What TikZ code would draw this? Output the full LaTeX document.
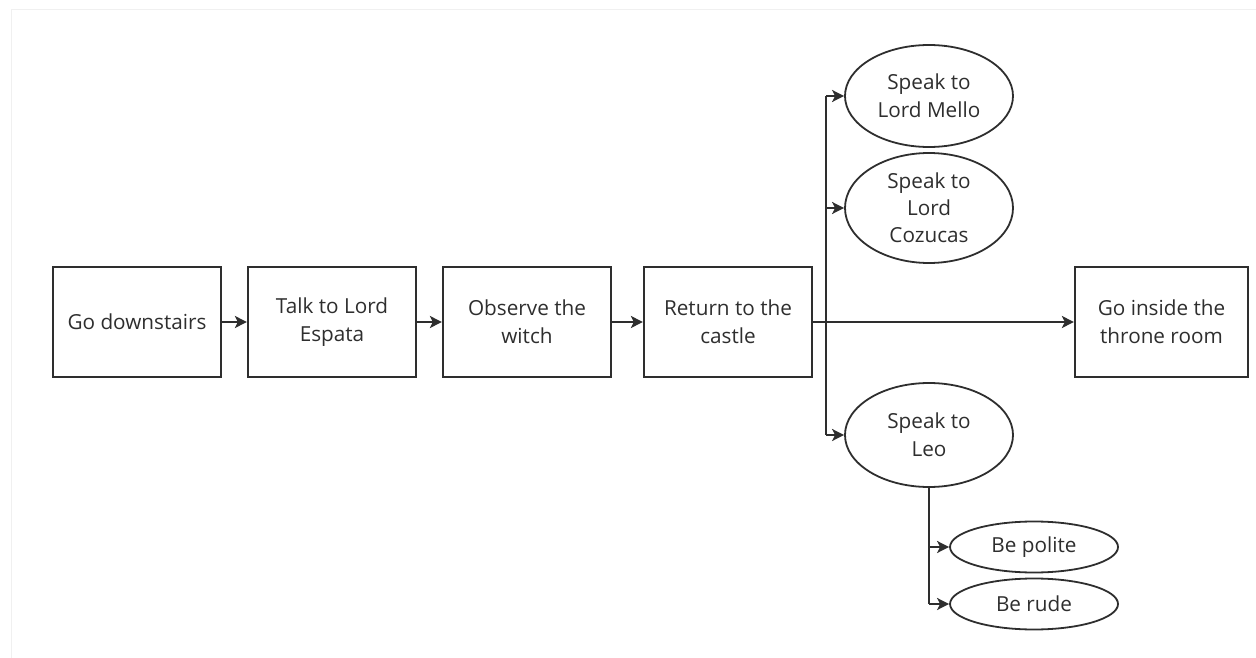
\documentclass[tikz,border=0pt]{standalone}
\usepackage{fontspec}
\setmainfont{Open Sans}
\usetikzlibrary{shapes.geometric,arrows.meta}
\definecolor{ink}{HTML}{2E2E2E}
\definecolor{frame}{HTML}{F0F0F0}
\begin{document}
\begin{tikzpicture}[x=1bp,y=-1bp,
  every node/.style={font=\fontsize{20.8}{28.5}\selectfont, text=ink, align=center},
  stepbox/.style={draw=ink, line width=2.2bp, rectangle, minimum width=168bp, minimum height=110bp, inner sep=0pt},
  bigoval/.style={draw=ink, line width=1.8bp, ellipse, minimum width=168bp, inner sep=-20bp},
  smalloval/.style={draw=ink, line width=1.8bp, ellipse, minimum width=168bp, minimum height=51bp, inner sep=-20bp},
  link/.style={draw=ink, line width=2.9bp, -{Stealth[length=12bp,width=12bp,inset=3bp]}},
  trunk/.style={draw=ink, line width=2.9bp}
]
\useasboundingbox (0,0) rectangle (1256,658);
% faint page frame
\draw[frame, line width=1bp] (11,658) -- (11,10) -- (1256,10);

% main sequence
\node[stepbox] (down)   at (137,322)  {Go downstairs};
\node[stepbox] (espata) at (332,322)  {Talk to Lord\\Espata};
\node[stepbox] (witch)  at (527,322)  {Observe the\\witch};
\node[stepbox] (castle) at (728,322)  {Return to the\\castle};
\node[stepbox, minimum width=173bp] (throne) at (1161.5,322) {Go inside the\\throne room};

% choices after the castle
\node[bigoval, minimum height=102bp] (mello)   at (929,96)  {Speak to\\Lord Mello};
\node[bigoval, minimum height=110bp, font=\fontsize{20.8}{27}\selectfont] (cozucas) at (929,208) {Speak to\\Lord\\Cozucas};
\node[bigoval, minimum height=104bp] (leo)     at (929,435) {Speak to\\Leo};
\node[smalloval] (polite) at (1034,547) {Be polite};
\node[smalloval] (rude)   at (1034,604) {Be rude};

% junction points
\coordinate (fork) at (826,322);
\coordinate (leoleg) at (929,604);

\draw[link] (down) -- (espata);
\draw[link] (espata) -- (witch);
\draw[link] (witch) -- (castle);
\draw[link] (castle) -- (throne);

\draw[trunk] (fork |- mello.west) -- (fork |- leo.west);
\draw[link] (fork |- mello.west) -- (mello.west);
\draw[link] (fork |- cozucas.west) -- (cozucas.west);
\draw[link] (fork |- leo.west) -- (leo.west);

\draw[trunk] (leo.south) -- (leoleg);
\draw[link] (leo.south |- polite.west) -- (polite.west);
\draw[link] (leoleg) -- (rude.west);
\end{tikzpicture}
\end{document}
